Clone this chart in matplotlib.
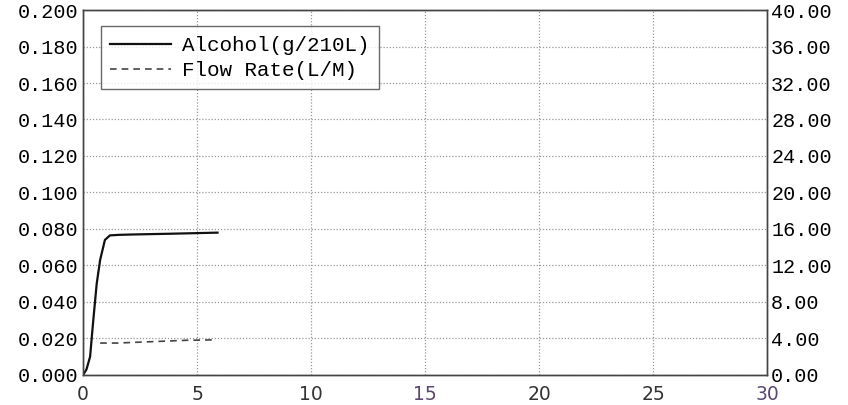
import numpy as np
import matplotlib.pyplot as plt

# values
alc_t = [0.0, 0.15, 0.31, 0.45, 0.6, 0.75, 0.96, 1.18, 1.6, 2.2, 3.0, 3.8, 4.5, 5.2, 5.9]
alc_v = [0.0, 0.003, 0.010, 0.030, 0.050, 0.063, 0.074, 0.0765, 0.0768, 0.0770, 0.0772, 0.0774, 0.0776, 0.0778, 0.0780]
flow_t = [0.75, 1.5, 2.5, 3.5, 4.5, 5.7]
flow_v = [3.5, 3.5, 3.6, 3.7, 3.8, 3.85]

left_ticks = np.arange(0, 0.2001, 0.02)
right_ticks = np.arange(0, 40.01, 4)
x_ticks = [0, 5, 10, 15, 20, 25, 30]

mono = 'Liberation Mono'

fig = plt.figure(figsize=(8.48, 4.05), dpi=100)
ax = fig.add_axes([0.0979, 0.0741, 0.8066, 0.9012])
ax2 = ax.twinx()

ln1, = ax.plot(alc_t, alc_v, color='#111111', lw=1.6, label='Alcohol(g/210L)')
ln2, = ax2.plot(flow_t, flow_v, color='#444444', lw=1.2, ls=(0, (4, 3)), label='Flow Rate(L/M)')

ax.set_xlim(0, 30)
ax.set_ylim(0, 0.2)
ax2.set_ylim(0, 40)
ax.set_xticks(x_ticks)
ax.set_yticks(left_ticks)
ax2.set_yticks(right_ticks)
ax.set_yticklabels(['%.3f' % v for v in left_ticks], family=mono, fontsize=14.5)
ax2.set_yticklabels(['%.2f' % v for v in right_ticks], family=mono, fontsize=14.5)
ax.set_xticklabels([str(v) for v in x_ticks], fontsize=13.5, color='#333333')
ax.get_xticklabels()[-1].set_color('#5a4870')
ax.get_xticklabels()[3].set_color('#5a4870')

ax.tick_params(axis='y', length=0, pad=3)
ax.tick_params(axis='x', length=0, pad=7)
ax2.tick_params(axis='both', length=0, pad=3)
ax.grid(True, color='#999999', ls=(0, (1, 1.5)), lw=0.9)

for a in (ax, ax2):
    for s in a.spines.values():
        s.set_color('#444444')
        s.set_linewidth(1.0)

leg = ax.legend(handles=[ln1, ln2], loc='upper left', bbox_to_anchor=(0.026, 0.955),
                prop={'family': mono, 'size': 15}, frameon=True, fancybox=False,
                borderpad=0.45, handlelength=2.9, handletextpad=0.55, labelspacing=0.3,
                borderaxespad=0)
leg.get_frame().set_edgecolor('#444444')
leg.get_frame().set_linewidth(1.0)

fig.savefig('out.png', dpi=100)
